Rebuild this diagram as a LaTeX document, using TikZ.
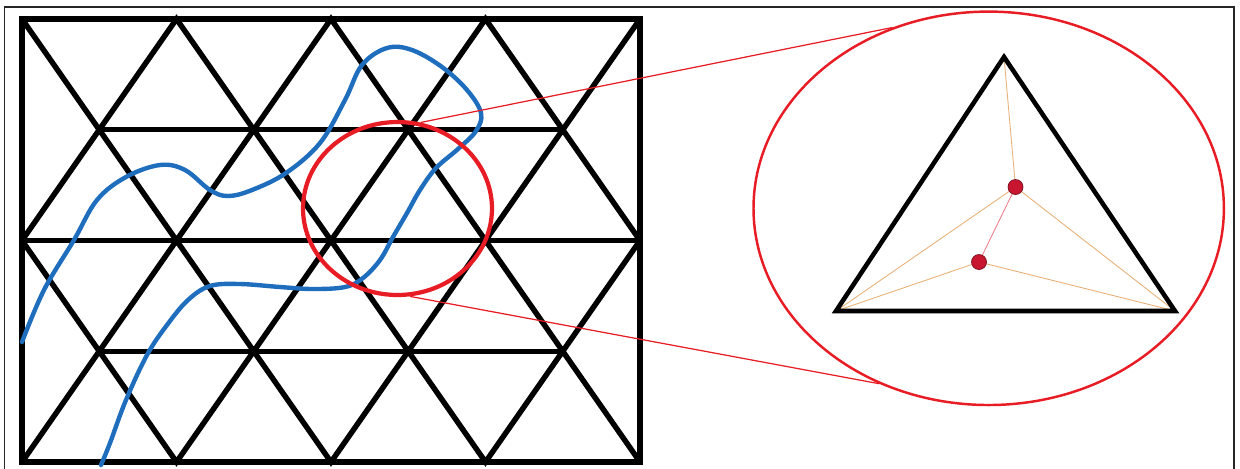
\documentclass[tikz,border=0pt]{standalone}
\usetikzlibrary{shapes.geometric}
\definecolor{curveblue}{RGB}{31,110,190}
\definecolor{lensred}{RGB}{232,28,36}
\definecolor{tanline}{RGB}{232,178,122}
\definecolor{pinkline}{RGB}{238,128,140}
\definecolor{dotred}{RGB}{200,22,48}
\tikzset{
    latline/.style={line width=3.1pt, line join=miter},
    lensring/.style={draw=lensred, ellipse, inner sep=0pt, line width=#1},
    zoomline/.style={lensred, line width=0.7pt},
    steiner/.style={tanline, line width=0.5pt},
    dot/.style={circle, fill=dotred, draw=dotred!60!black, line width=0.4pt,
        inner sep=0pt, minimum size=0.3cm}
}
\begin{document}
\begin{tikzpicture}[x=0.02cm, y=-0.02cm]
    \useasboundingbox (0,0) rectangle (1240,468);
    \fill[white] (0,0) rectangle (1240,468);

    % Outer frame
    \draw[line width=1.1pt, black!85] (4.5,470) -- (4.5,7) -- (1234,7) -- (1234,470);

    % Lattice points
    \foreach \r in {0,...,4}
        \foreach \i in {0,...,4}
            \coordinate (v\r\i) at ({22+154.5*\i+77.25*mod(\r,2)}, {19+110.75*\r});

    % Triangle lattice
    \foreach \e/\o in {0/1,2/1,2/3,4/3}
        \draw[latline] (v\e0) -- (v\o0) -- (v\e1) -- (v\o1) -- (v\e2) -- (v\o2)
            -- (v\e3) -- (v\o3) -- (v\e4);
    \draw[latline] (v00) rectangle (v44);
    \draw[latline] (v20) -- (v24);
    \foreach \r in {1,3}
        \draw[latline] (v\r0) -- (v\r3);

    % Blue crack curve
    \draw[curveblue, line width=2.5pt, line cap=round] plot[smooth, tension=0.6] coordinates {
        (22,342) (44,290) (74,240) (97,200) (126,177) (160,165) (185,170) (210,190)
        (228,196) (252,190) (286,173) (320,143) (345,100) (362,65) (387,48) (412,50)
        (442,67) (467,90) (481,113) (476,131) (458,149) (436,168) (420,190) (407,213)
        (393,237) (380,260) (363,278) (345,287) (313,289) (280,287) (240,284) (210,286)
        (188,300) (167,325) (147,355) (126,400) (110,443) (101,465)};

    % Zoom circle and enlarged view
    \node[lensring=2.4pt, minimum width=3.78cm, minimum height=3.46cm] (lens) at (397.5,208.5) {};
    \node[lensring=1.4pt, minimum width=9.41cm, minimum height=7.87cm] (view) at (988.7,208.3) {};
    \draw[zoomline] (lens.75) -- (view.118);
    \draw[zoomline] (lens.-82) -- (view.238);

    % Enlarged element
    \coordinate (top) at (1004,57);
    \coordinate (bl) at (836,311);
    \coordinate (br) at (1175,311);
    \coordinate (p1) at (1015.5,187);
    \coordinate (p2) at (979,262);

    \draw[steiner] (top) -- (p1);
    \draw[steiner] (bl) -- (p1);
    \draw[steiner] (bl) -- (p2);
    \draw[steiner] (br) -- (p1);
    \draw[steiner] (br) -- (p2);
    \draw[steiner, pinkline] (p1) -- (p2);

    \draw[line width=2.6pt, line join=miter] (top) -- (bl) -- (br) -- cycle;

    \node[dot] (d1) at (p1) {};
    \node[dot] (d2) at (p2) {};
\end{tikzpicture}
\end{document}
